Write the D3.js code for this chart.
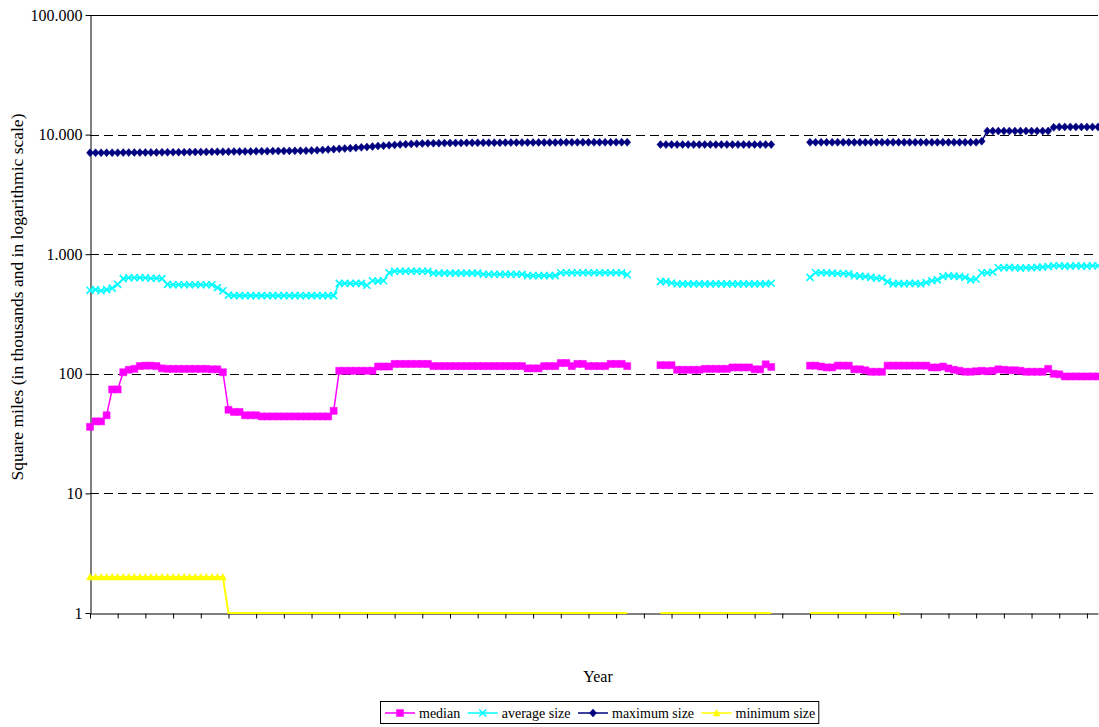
<!DOCTYPE html>
<html>
<head>
<meta charset="utf-8">
<script src="https://cdn.jsdelivr.net/npm/d3@7"></script>
<style>
  html, body { margin: 0; padding: 0; background: #fff; }
  svg { display: block; }
  text { font-family: "Liberation Serif", "Times New Roman", serif; fill: #000; }
</style>
</head>
<body>
<svg id="chart" width="1099" height="727"></svg>
<script>
// Categories: one per year
const firstYear = 1816, lastYear = 1998;
const years = d3.range(firstYear, lastYear + 1);

// Y axis ticks (thousands of square miles, log scale)
const yTickValues = [1, 10, 100, 1000, 10000, 100000];
const yTickLabels = ["1", "10", "100", "1.000", "10.000", "100.000"];

// Series values in thousands of square miles (null = no data)
const median = [
  36,40,40,45,74,74,103,108,110,116,
  117,117,116,111,110,110,110,110,110,110,
  110,110,109,109,103,50,48,48,45,45,
  45,44,44,44,44,44,44,44,44,44,
  44,44,44,44,49,106,106,106,106,106,
  106,106,115,115,115,121,121,121,121,121,
  121,121,116,116,116,116,116,116,116,116,
  116,116,116,116,116,116,116,116,116,111,
  111,111,116,116,116,123,123,116,121,121,
  116,116,116,116,121,121,121,116,
  null,null,null,null,null,
  118,118,118,108,108,108,108,108,110,110,
  110,110,110,113,113,113,113,109,109,120,
  114,
  null,null,null,null,null,null,
  117,117,115,113,113,117,117,117,109,109,
  107,104,104,104,117,117,117,117,117,117,
  117,117,113,113,115,111,108,106,104,104,
  105,106,105,106,109,108,107,107,106,104,
  104,104,104,110,100,99,95,95,95,95,
  95,95,95
];

const averageSize = [
  500,505,495,505,520,560,625,635,635,635,
  635,630,630,625,560,555,555,555,555,555,
  555,555,555,525,495,455,450,450,450,450,
  450,450,450,450,450,450,450,450,450,450,
  450,450,450,450,450,570,570,570,570,570,
  550,600,595,600,700,720,720,720,720,720,
  720,720,695,695,695,695,695,695,695,695,
  695,680,680,680,680,680,680,680,680,662,
  662,662,662,662,662,700,700,700,700,700,
  700,700,700,700,700,700,700,675,
  null,null,null,null,null,
  590,590,575,565,565,565,565,565,565,565,
  565,565,565,565,565,565,565,565,565,565,
  572,
  null,null,null,null,null,null,
  640,700,700,700,695,690,690,685,660,655,
  650,640,630,630,590,565,570,565,570,570,
  565,580,600,610,650,660,655,650,640,610,
  620,700,700,710,770,770,775,770,765,770,
  770,775,780,790,800,800,795,795,800,795,
  795,800,800
];

const maximumSize = [
  7050,7050,7050,7060,7060,7060,7070,7070,7080,7080,
  7090,7100,7100,7110,7110,7120,7120,7130,7140,7150,
  7160,7170,7180,7190,7200,7200,7210,7220,7230,7240,
  7250,7260,7270,7280,7290,7300,7310,7320,7330,7340,
  7360,7400,7450,7500,7550,7600,7650,7700,7750,7820,
  7880,7950,8020,8080,8140,8200,8260,8310,8360,8400,
  8430,8450,8470,8480,8490,8500,8510,8520,8530,8540,
  8540,8550,8550,8560,8560,8570,8570,8580,8580,8590,
  8590,8600,8600,8600,8600,8610,8610,8610,8610,8620,
  8620,8620,8620,8620,8620,8630,8630,8630,
  null,null,null,null,null,
  8250,8250,8250,8250,8250,8250,8250,8250,8250,8250,
  8250,8250,8250,8250,8250,8250,8250,8250,8250,8250,
  8250,
  null,null,null,null,null,null,
  8620,8620,8620,8620,8620,8620,8620,8620,8620,8620,
  8620,8620,8620,8620,8620,8620,8620,8620,8620,8620,
  8620,8620,8620,8620,8620,8620,8620,8620,8620,8620,
  8620,8800,10700,10700,10700,10700,10700,10700,10700,10700,
  10700,10700,10700,10700,11500,11600,11600,11600,11600,11600,
  11600,11600,11600
];

const minimumSize = [
  2,2,2,2,2,2,2,2,2,2,
  2,2,2,2,2,2,2,2,2,2,
  2,2,2,2,2,0.998,0.998,0.998,0.998,0.998,
  0.998,0.998,0.998,0.998,0.998,0.998,0.998,0.998,0.998,0.998,
  0.998,0.998,0.998,0.998,0.998,0.998,0.998,0.998,0.998,0.998,
  0.998,0.998,0.998,0.998,0.998,0.998,0.998,0.998,0.998,0.998,
  0.998,0.998,0.998,0.998,0.998,0.998,0.998,0.998,0.998,0.998,
  0.998,0.998,0.998,0.998,0.998,0.998,0.998,0.998,0.998,0.998,
  0.998,0.998,0.998,0.998,0.998,0.998,0.998,0.998,0.998,0.998,
  0.998,0.998,0.998,0.998,0.998,0.998,0.998,0.998,
  null,null,null,null,null,
  0.998,0.998,0.998,0.998,0.998,0.998,0.998,0.998,0.998,0.998,
  0.998,0.998,0.998,0.998,0.998,0.998,0.998,0.998,0.998,0.998,
  0.998,
  null,null,null,null,null,null,
  0.998,0.998,0.998,0.998,0.998,0.998,0.998,0.998,0.998,0.998,
  0.998,0.998,0.998,0.998,0.998,0.998,0.998,0.12,0.12,0.12,
  0.12,0.12,0.008,0.008,0.008,0.008,0.008,0.008,0.008,0.008,
  0.008,0.008,0.008,0.008,0.008,0.008,0.008,0.008,0.008,0.008,
  0.008,0.008,0.008,0.008,0.008,0.008,0.008,0.008,0.008,0.008,
  0.008,0.008,0.008
];

const seriesNames = ["median", "average size", "maximum size", "minimum size"];
const seriesColors = ["#FF00FF", "#00FFFF", "#000080", "#FFFF00"];
const seriesMarkers = ["square", "cross", "diamond", "triangle"];
const seriesValues = [median, averageSize, maximumSize, minimumSize];

// ---- layout ----
const svg = d3.select("#chart");
const plot = { left: 90, right: 1098, top: 15, bottom: 613 };

const x = d3.scalePoint().domain(years).range([plot.left, plot.right]).padding(0);
const y = d3.scaleLog().domain([1, 100000]).range([plot.bottom, plot.top]);

// horizontal gridlines (top one solid, others dashed)
svg.append("g").selectAll("line")
  .data(yTickValues.filter(v => v > 1))
  .join("line")
  .attr("x1", plot.left).attr("x2", plot.right)
  .attr("y1", d => Math.round(y(d)) + 0.5).attr("y2", d => Math.round(y(d)) + 0.5)
  .attr("stroke", "#000").attr("stroke-width", 1)
  .attr("stroke-dasharray", d => d === 100000 ? null : "9,5");

// y axis
const yAxis = svg.append("g")
  .attr("transform", `translate(${plot.left + 0.5},0)`)
  .call(d3.axisLeft(y).tickValues(yTickValues)
    .tickFormat((d, i) => yTickLabels[i]).tickSize(5).tickSizeOuter(0).tickPadding(3));
yAxis.select(".domain").attr("stroke", "#000");
yAxis.selectAll(".tick line").attr("stroke", "#000");
yAxis.selectAll(".tick text")
  .style("font-family", '"Liberation Serif", "Times New Roman", serif')
  .style("font-size", "16px").attr("fill", "#000");

// x axis (category ticks every five years, no labels)
const xAxis = svg.append("g")
  .attr("transform", `translate(0,${plot.bottom + 0.5})`)
  .call(d3.axisBottom(x).tickValues(years.filter((d, i) => i % 5 === 0))
    .tickFormat("").tickSize(5).tickSizeOuter(0));
xAxis.select(".domain").attr("stroke", "#000");
xAxis.selectAll(".tick line").attr("stroke", "#000");

// axis titles
svg.append("text")
  .attr("transform", "translate(23,297) rotate(-90)")
  .attr("text-anchor", "middle")
  .style("font-size", "17.5px")
  .text("Square miles (in thousands and in logarithmic scale)");

svg.append("text")
  .attr("x", 598).attr("y", 682)
  .attr("text-anchor", "middle")
  .style("font-size", "16px")
  .text("Year");

// ---- series ----
svg.append("clipPath").attr("id", "plot-clip")
  .append("rect")
  .attr("x", plot.left - 4).attr("y", plot.top - 4)
  .attr("width", plot.right - plot.left + 8).attr("height", plot.bottom - plot.top + 7);

function markerPath(kind, s) {
  const h = s / 2;
  switch (kind) {
    case "square": return `M${-h},${-h}H${h}V${h}H${-h}Z`;
    case "diamond": return `M0,${-h - 0.5}L${h},0L0,${h + 0.5}L${-h},0Z`;
    case "triangle": return `M0,${-h}L${h},${h - 0.5}L${-h},${h - 0.5}Z`;
    case "cross": return `M${-h},${-h}L${h},${h}M${h},${-h}L${-h},${h}`;
  }
}

const layer = svg.append("g").attr("clip-path", "url(#plot-clip)");

seriesValues.forEach((vals, si) => {
  const pts = years.map((yr, i) => ({ yr, v: vals[i] }));
  const color = seriesColors[si];
  const line = d3.line()
    .defined(d => d.v != null)
    .x(d => x(d.yr)).y(d => y(d.v));
  layer.append("path")
    .datum(pts)
    .attr("fill", "none")
    .attr("stroke", color)
    .attr("stroke-width", si === 3 ? 2 : 1.5)
    .attr("d", line);

  const kind = seriesMarkers[si];
  layer.append("g").selectAll("path")
    .data(pts.filter(d => d.v != null && d.v >= 1 && d.v <= 100000))
    .join("path")
    .attr("transform", d => `translate(${x(d.yr)},${y(d.v)})`)
    .attr("d", markerPath(kind, 7))
    .attr("fill", kind === "cross" ? "none" : color)
    .attr("stroke", color)
    .attr("stroke-width", kind === "cross" ? 1.6 : 0.5);
});

// ---- legend ----
const legend = svg.append("g");
const legendY = 713;
const legendLeft = 380;
let lx = legendLeft + 5;
seriesNames.forEach((name, si) => {
  const g = legend.append("g");
  g.append("line")
    .attr("x1", lx).attr("x2", lx + 30)
    .attr("y1", legendY).attr("y2", legendY)
    .attr("stroke", seriesColors[si]).attr("stroke-width", 1.5);
  const kind = seriesMarkers[si];
  g.append("path")
    .attr("transform", `translate(${lx + 15},${legendY})`)
    .attr("d", markerPath(kind, 7))
    .attr("fill", kind === "cross" ? "none" : seriesColors[si])
    .attr("stroke", seriesColors[si])
    .attr("stroke-width", kind === "cross" ? 1.6 : 0.5);
  const t = g.append("text")
    .attr("x", lx + 34).attr("y", legendY + 5)
    .style("font-size", "14px")
    .text(name);
  const w = t.node().getComputedTextLength();
  lx = lx + 34 + w + 7.5;
});
legend.insert("rect", ":first-child")
  .attr("x", legendLeft + 0.5).attr("y", 701.5)
  .attr("width", lx - 7.5 + 3 - legendLeft).attr("height", 22)
  .attr("fill", "#fff").attr("stroke", "#000").attr("stroke-width", 1);
</script>
</body>
</html>
